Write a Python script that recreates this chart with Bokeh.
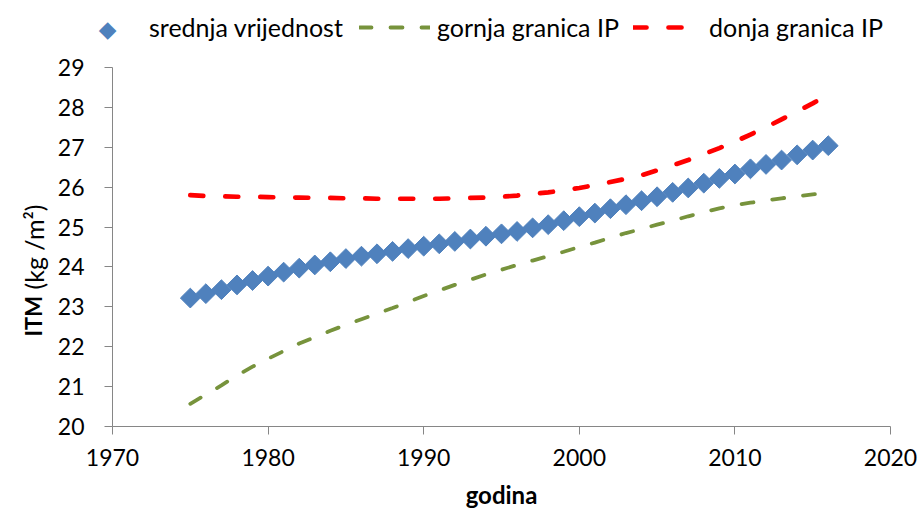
import math
from bokeh.plotting import figure
from bokeh.models import Legend, LegendItem, Label, Range1d, FixedTicker
from bokeh.embed import file_html
from bokeh.resources import INLINE

years = list(range(1975, 2017))
mean_vals = [23.22, 23.33, 23.43, 23.55, 23.66, 23.77, 23.87, 23.97, 24.05, 24.13,
             24.21, 24.27, 24.33, 24.39, 24.46, 24.52, 24.58, 24.64, 24.70, 24.77,
             24.83, 24.89, 24.98, 25.06, 25.16, 25.26, 25.35, 25.46, 25.56, 25.66,
             25.76, 25.87, 25.98, 26.10, 26.22, 26.33, 26.46, 26.57, 26.68, 26.81,
             26.93, 27.04]
gornja_vals = [20.57, 20.80, 21.03, 21.28, 21.50, 21.70, 21.89, 22.08, 22.24, 22.40,
               22.55, 22.69, 22.83, 22.97, 23.12, 23.27, 23.41, 23.55, 23.68, 23.81,
               23.93, 24.05, 24.16, 24.27, 24.38, 24.50, 24.61, 24.73, 24.85, 24.95,
               25.06, 25.16, 25.27, 25.37, 25.47, 25.55, 25.61, 25.67, 25.72, 25.77,
               25.82, 25.86]
donja_vals = [25.80, 25.78, 25.77, 25.76, 25.76, 25.75, 25.74, 25.74, 25.73, 25.73,
              25.72, 25.72, 25.71, 25.71, 25.71, 25.71, 25.71, 25.72, 25.73, 25.74,
              25.76, 25.79, 25.83, 25.87, 25.92, 25.98, 26.05, 26.13, 26.21, 26.30,
              26.42, 26.55, 26.68, 26.83, 26.98, 27.14, 27.32, 27.50, 27.70, 27.90,
              28.10, 28.32]
x_ticks = [1970, 1980, 1990, 2000, 2010, 2020]
y_ticks = [20, 21, 22, 23, 24, 25, 26, 27, 28, 29]
series_names = ["srednja vrijednost", "gornja granica IP", "donja granica IP"]
x_title = "godina"
y_title_bold = "ITM"
y_title_rest = "(kg /m\u00b2)"

FONT = "Lato"
AX = "#868686"
BLUE = "#4F81BD"
W, H = 920, 512
# pixel placement of the axis box inside the canvas (layout, not data)
PX_L, PX_R, PX_T, PX_B = 112, 890, 67, 426
X0, X1 = x_ticks[0], x_ticks[-1]
Y0, Y1 = y_ticks[0], y_ticks[-1]
xs = (X1 - X0) / (PX_R - PX_L)
ys = (Y1 - Y0) / (PX_B - PX_T)
x_range = Range1d(X0 - PX_L * xs, X1 + (W - PX_R) * xs)
y_range = Range1d(Y0 - (H - PX_B) * ys, Y1 + PX_T * ys)

p = figure(width=W, height=H, output_backend="svg", toolbar_location=None,
           x_range=x_range, y_range=y_range, min_border=0)
p.outline_line_color = None
p.xgrid.grid_line_color = None
p.ygrid.grid_line_color = None
p.background_fill_color = "white"
p.border_fill_color = "white"

p.xaxis.fixed_location = Y0
p.xaxis.bounds = (X0, X1)
p.yaxis.fixed_location = X0
p.yaxis.bounds = (Y0, Y1)
for ax, ticks in ((p.xaxis, x_ticks), (p.yaxis, y_ticks)):
    ax.ticker = FixedTicker(ticks=ticks)
    ax.axis_line_color = AX
    ax.major_tick_line_color = AX
    ax.major_tick_out = 8
    ax.major_tick_in = 0
    ax.minor_tick_line_color = None
    ax.major_label_text_font = FONT
    ax.major_label_text_font_size = "23px"
    ax.major_label_text_color = "black"
p.xaxis.major_label_standoff = 14
p.yaxis.major_label_standoff = 20

r_mean = p.scatter(years, mean_vals, marker="square", angle=math.pi / 4, size=14,
                   fill_color=BLUE, line_color=BLUE)
r_g = p.line(years, gornja_vals, line_color="#77933C", line_width=3.8,
             line_dash="12 19", line_cap="round")
r_d = p.line(years, donja_vals, line_color="#FF0000", line_width=4.7,
             line_dash="13 22", line_cap="round")
# legend stand-in for the diamond series (its marker is drawn as a text diamond below)
r_mean_key = p.scatter(x=[], y=[], marker="square", fill_alpha=0, line_alpha=0)

LEG_Y = H - 42
def make_legend(name, rend, x, gw, standoff):
    lg = Legend(items=[LegendItem(label=name, renderers=[rend])],
                location=(x, LEG_Y), orientation="horizontal",
                glyph_width=gw, glyph_height=28, label_height=28,
                label_standoff=standoff, padding=0, margin=0, spacing=0,
                border_line_color=None, background_fill_alpha=0,
                label_text_font=FONT, label_text_font_size="25px",
                label_text_color="black")
    p.add_layout(lg, "center")

make_legend(series_names[0], r_mean_key, 92, 30, 27)
make_legend(series_names[1], r_g, 359, 71, 7)
make_legend(series_names[2], r_d, 633, 55, 21)

p.add_layout(Label(x=107, y=H - 28, x_units="screen", y_units="screen", text="\u25c6",
                   text_align="center", text_baseline="middle",
                   text_font="DejaVu Sans", text_font_size="23px", text_color=BLUE))

p.add_layout(Label(x=33, y=H - 336, x_units="screen", y_units="screen", text=y_title_bold,
                   angle=math.pi / 2, text_align="left", text_baseline="alphabetic",
                   text_font=FONT, text_font_size="22px", text_font_style="bold",
                   text_color="black"))
p.add_layout(Label(x=33, y=H - 289, x_units="screen", y_units="screen", text=y_title_rest,
                   angle=math.pi / 2, text_align="left", text_baseline="alphabetic",
                   text_font=FONT, text_font_size="25px", text_color="black"))
p.add_layout(Label(x=501, y=H - 494, x_units="screen", y_units="screen", text=x_title,
                   text_align="center", text_baseline="alphabetic",
                   text_font=FONT, text_font_size="24px", text_font_style="bold",
                   text_color="black"))

open("out.html", "w").write(file_html(p, INLINE))
